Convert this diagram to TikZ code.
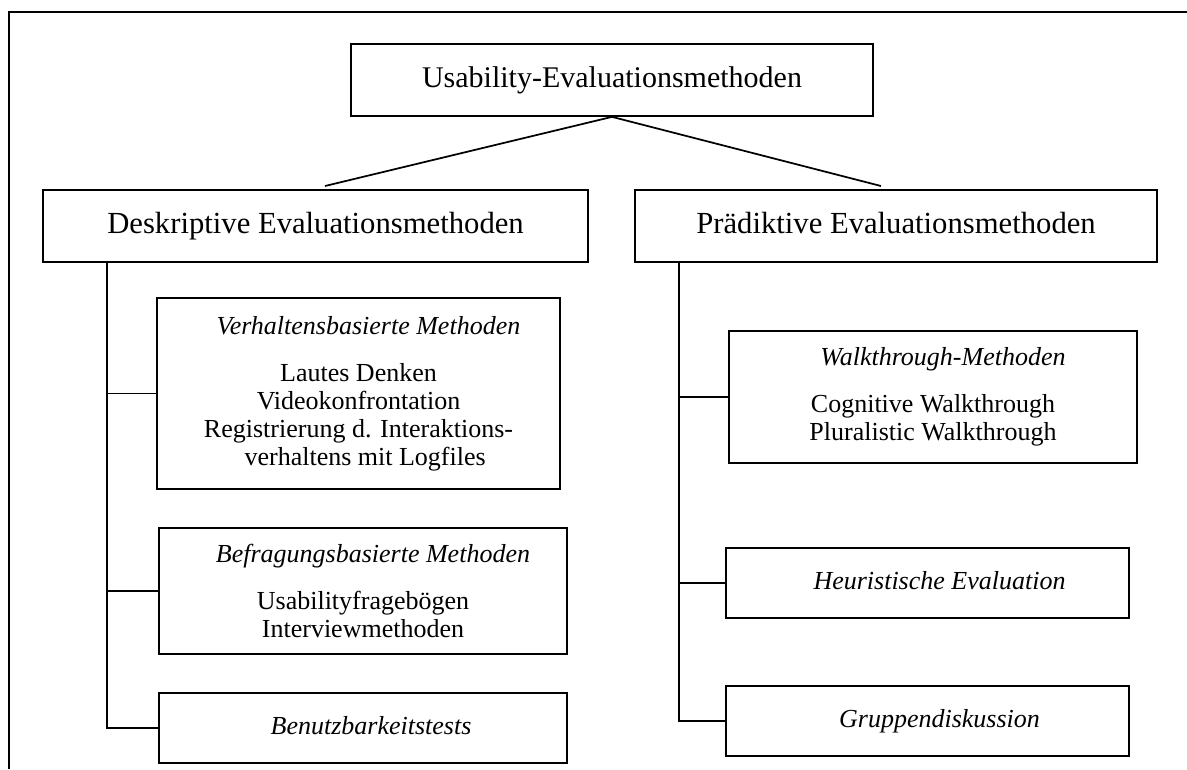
\documentclass[tikz,border=0pt]{standalone}
\usepackage{fontspec}
\setmainfont{Liberation Serif}
\begin{document}
\begin{tikzpicture}[x=0.75pt,y=-0.75pt,
  box/.style={draw,line width=1.3pt,inner sep=0pt,align=center},
  big/.style={font=\fontsize{23}{27}\selectfont,text height=16pt,text depth=5pt},
  small/.style={font=\fontsize{19.5}{21}\selectfont},
  one/.style={text height=14pt,text depth=4pt},
  link/.style={line width=1.3pt}]
\useasboundingbox (0,0) rectangle (1187,769);

% page frame (top and left edges)
\coordinate (fTL) at (9,12);
\coordinate (fTR) at (1187,12);
\coordinate (fBL) at (9,769);
\draw[link] (fBL) -- (fTL) -- (fTR);

% root
\node[box,big,font=\fontsize{22.5}{27}\selectfont,minimum width=391.5pt,minimum height=54pt] (root) at (612,80) {Usability-Evaluationsmethoden};

% second level
\node[box,big,minimum width=408.75pt,minimum height=54pt] (desk) at (315.5,226) {Deskriptive Evaluationsmethoden};
\node[box,big,minimum width=391.5pt,minimum height=54pt] (praed) at (896,226) {Prädiktive Evaluationsmethoden};

\coordinate (dl) at (325,186);
\coordinate (dr) at (881,186);
\draw[link] (dl) -- (root.south) -- (dr);

% descriptive methods
\node[box,small,minimum width=302.25pt,minimum height=143.25pt] (verh) at (358.5,393.5)
  {\hspace*{15pt}\textit{Verhaltensbasierte Methoden}\\[14pt]
   Lautes Denken\\ Videokonfrontation\\ Registrierung d. Interaktions-\\ \hspace*{10pt}verhaltens mit Logfiles};
\node[box,small,minimum width=306pt,minimum height=94.5pt] (befr) at (363,591)
  {\hspace*{15pt}\textit{Befragungsbasierte Methoden}\\[14pt]
   Usabilityfragebögen\\ Interviewmethoden};
\node[box,small,one,minimum width=306pt,minimum height=52.5pt] (benutz) at (363,728)
  {\hspace*{12pt}\textit{Benutzbarkeitstests}};

% predictive methods
\node[box,small,minimum width=306pt,minimum height=99pt] (walk) at (933,397)
  {\hspace*{15pt}\textit{Walkthrough-Methoden}\\[14pt]
   Cognitive Walkthrough\\ Pluralistic Walkthrough};
\node[box,small,one,minimum width=302.25pt,minimum height=52.5pt] (heur) at (927.5,583)
  {\hspace*{18pt}\textit{Heuristische Evaluation}};
\node[box,small,one,minimum width=302.25pt,minimum height=52.5pt] (grupp) at (927.5,721)
  {\hspace*{18pt}\textit{Gruppendiskussion}};

% trunks and branches
\coordinate (tl) at (107,262);
\coordinate (tr) at (679,262);
\draw[link] (tl) |- (benutz.west);
\draw[link] (tl |- verh.west) -- (verh.west);
\draw[link] (tl |- befr.west) -- (befr.west);
\draw[link] (tr) |- (grupp.west);
\draw[link] (tr |- walk.west) -- (walk.west);
\draw[link] (tr |- heur.west) -- (heur.west);
\end{tikzpicture}
\end{document}
